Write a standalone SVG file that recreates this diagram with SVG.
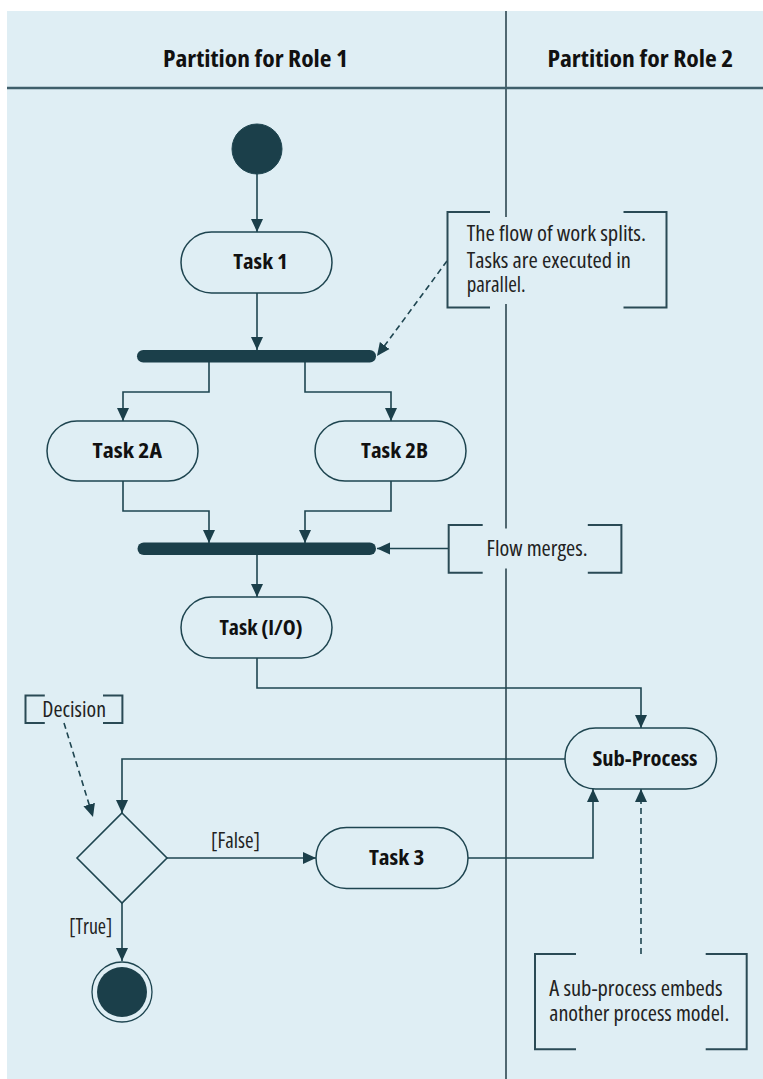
<svg xmlns="http://www.w3.org/2000/svg" width="763" height="1079" viewBox="0 0 763 1079">
<style>
.bg{fill:#dfeef4}
.task{fill:#dfeef4;stroke:#1e4550;stroke-width:1.5}
.lbl{font-family:"Open Sans","Liberation Sans",sans-serif;font-stretch:condensed;font-weight:bold;font-size:22px;fill:#111;text-anchor:middle}
.hdr{font-family:"Open Sans","Liberation Sans",sans-serif;font-stretch:condensed;font-weight:bold;font-size:22.5px;fill:#111;text-anchor:middle}
.note{font-family:"Open Sans","Liberation Sans",sans-serif;font-stretch:condensed;font-size:21px;fill:#222}
.br{fill:none;stroke:#2a4a55;stroke-width:2}
.con{fill:none;stroke:#1e4550;stroke-width:1.6}
.dash{fill:none;stroke:#1e4550;stroke-width:1.6;stroke-dasharray:6 4}
.dark{fill:#1b3f4a}
</style>
<defs>
<marker id="ah" markerUnits="userSpaceOnUse" markerWidth="14" markerHeight="14" viewBox="0 0 14 14" refX="13" refY="7" orient="auto">
<path d="M0,1 L13,7 L0,13 Z" fill="#1b3f4a"/>
</marker>
</defs>
<rect class="bg" x="7" y="11" width="756" height="1068"/>
<g id="swimlanes">
<line x1="506" y1="11" x2="506" y2="1079" stroke="#2c4650" stroke-width="1.6"/>
<line x1="7" y1="88" x2="763" y2="88" stroke="#3f5f6b" stroke-width="2.5"/>
<text class="hdr" x="255.5" y="66.7" textLength="185" lengthAdjust="spacingAndGlyphs">Partition for Role 1</text>
<text class="hdr" x="640.4" y="66.7" textLength="186" lengthAdjust="spacingAndGlyphs">Partition for Role 2</text>
</g>
<g id="connectors">
<path class="con" d="M257,174 V232" marker-end="url(#ah)"/>
<path class="con" d="M257,293 V350" marker-end="url(#ah)"/>
<path class="con" d="M209,362 V392 H123 V421" marker-end="url(#ah)"/>
<path class="con" d="M305,362 V392 H391 V421" marker-end="url(#ah)"/>
<path class="con" d="M123,481 V511 H209 V543" marker-end="url(#ah)"/>
<path class="con" d="M391,481 V511 H305 V543" marker-end="url(#ah)"/>
<path class="con" d="M257,555 V597" marker-end="url(#ah)"/>
<path class="con" d="M257,658 V688 H641 V728" marker-end="url(#ah)"/>
<path class="con" d="M565,759 H122 V813" marker-end="url(#ah)"/>
<path class="con" d="M167,858 H316" marker-end="url(#ah)"/>
<path class="con" d="M468,858 H593 V789" marker-end="url(#ah)"/>
<path class="con" d="M122,903 V961" marker-end="url(#ah)"/>
<path class="dash" d="M447,261 L377,356" marker-end="url(#ah)"/>
<path class="con" d="M449,548.5 H377" marker-end="url(#ah)"/>
<path class="dash" d="M64,723 L93,817" marker-end="url(#ah)"/>
<path class="dash" d="M641,954 V789" marker-end="url(#ah)"/>
<text class="note" x="211" y="848.3" textLength="49" lengthAdjust="spacingAndGlyphs">[False]</text>
<text class="note" x="69.3" y="934.3" textLength="43" lengthAdjust="spacingAndGlyphs">[True]</text>
</g>
<g id="start">
<circle class="dark" cx="257" cy="149" r="25" stroke="#1e4550" stroke-width="1"/>
</g>
<g id="task1">
<rect class="task" x="181" y="232" width="151" height="61" rx="30.5"/>
<text class="lbl" x="260.5" y="269" textLength="54.5" lengthAdjust="spacingAndGlyphs">Task 1</text>
</g>
<g id="fork">
<rect class="dark" x="137" y="350" width="239" height="12.5" rx="6.25"/>
</g>
<g id="task2a">
<rect class="task" x="47" y="421" width="151" height="60" rx="30"/>
<text class="lbl" x="127.3" y="458" textLength="69.5" lengthAdjust="spacingAndGlyphs">Task 2A</text>
</g>
<g id="task2b">
<rect class="task" x="315" y="421" width="151" height="60" rx="30"/>
<text class="lbl" x="394.6" y="458" textLength="67" lengthAdjust="spacingAndGlyphs">Task 2B</text>
</g>
<g id="join">
<rect class="dark" x="137.5" y="542.5" width="238.5" height="12.5" rx="6.25"/>
</g>
<g id="taskio">
<rect class="task" x="181" y="597" width="151" height="61" rx="30.5"/>
<text class="lbl" x="261" y="634.5" textLength="83" lengthAdjust="spacingAndGlyphs">Task (I/O)</text>
</g>
<g id="subprocess">
<rect class="task" x="565" y="728" width="151.5" height="61" rx="30.5"/>
<text class="lbl" x="645" y="765.5" textLength="105" lengthAdjust="spacingAndGlyphs">Sub-Process</text>
</g>
<g id="decision">
<path d="M122,813 L167,858 L122,903 L77,858 Z" fill="#dfeef4" stroke="#1e4550" stroke-width="1.6"/>
</g>
<g id="task3">
<rect class="task" x="316" y="827.5" width="152" height="61" rx="30.5"/>
<text class="lbl" x="396.6" y="865" textLength="55.4" lengthAdjust="spacingAndGlyphs">Task 3</text>
</g>
<g id="end">
<circle cx="122" cy="992" r="30" fill="#dfeef4" stroke="#1e4550" stroke-width="1.3"/>
<circle class="dark" cx="122" cy="992" r="25"/>
</g>
<g id="note-split">
<rect class="bg" x="447" y="217" width="220" height="87"/>
<path class="br" d="M490,212 H447.5 V307.5 H490 M623.5,212 H666.5 V307.5 H623.5"/>
<text class="note" x="466.7" y="241" textLength="179.3" lengthAdjust="spacingAndGlyphs">The flow of work splits.</text>
<text class="note" x="466.7" y="267.7" textLength="164.3" lengthAdjust="spacingAndGlyphs">Tasks are executed in</text>
<text class="note" x="466.7" y="292.3" textLength="59" lengthAdjust="spacingAndGlyphs">parallel.</text>
</g>
<g id="note-merge">
<rect class="bg" x="449" y="528.5" width="173" height="40"/>
<path class="br" d="M482.7,525 H448.7 V572.7 H482.7 M587.8,525 H621.4 V572.7 H587.8"/>
<text class="note" x="486.6" y="556" textLength="101" lengthAdjust="spacingAndGlyphs">Flow merges.</text>
</g>
<g id="note-decision">
<path class="br" d="M44.8,695.5 H25.5 V723 H44.8 M103,695.5 H122.4 V723 H103"/>
<text class="note" x="42.3" y="717.3" textLength="63.7" lengthAdjust="spacingAndGlyphs">Decision</text>
</g>
<g id="note-subprocess">
<path class="br" d="M576,954 H535 V1049.3 H576 M705.7,954 H746.7 V1049.3 H705.7"/>
<text class="note" x="549.3" y="995.7" textLength="173.3" lengthAdjust="spacingAndGlyphs">A sub-process embeds</text>
<text class="note" x="549.3" y="1021" textLength="180" lengthAdjust="spacingAndGlyphs">another process model.</text>
</g>
</svg>
